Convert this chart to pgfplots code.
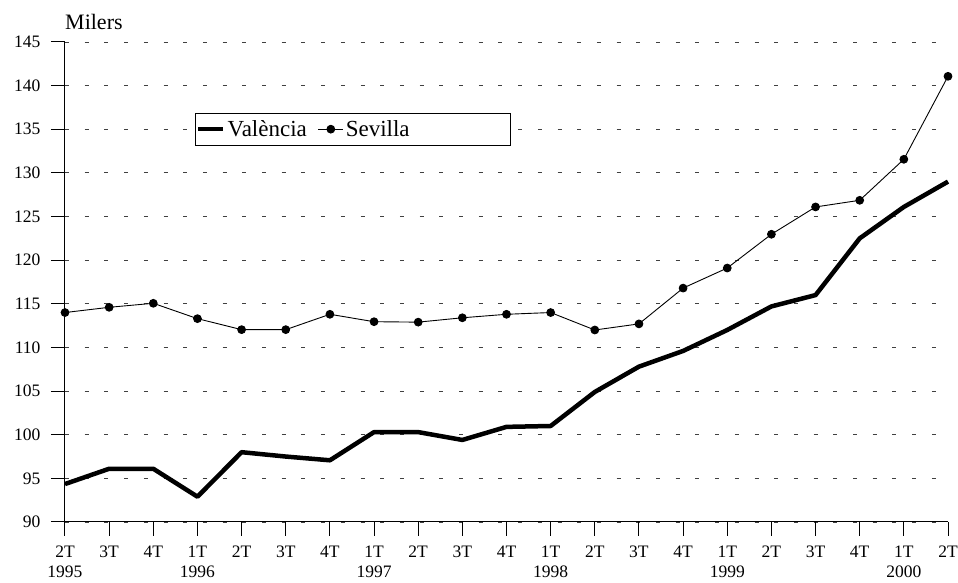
\documentclass[border=0pt]{standalone}
\usepackage{pgfplots}
\pgfplotsset{compat=1.18}
\usepackage{fontspec}
\setmainfont{Liberation Serif}
\begin{document}
\begin{tikzpicture}
\begin{axis}[
  scale only axis,
  width=883pt, height=480pt,
  xmin=0, xmax=20, ymin=90, ymax=145,
  axis x line*=bottom, axis y line*=left,
  axis line style={line width=1pt},
  xtick={0,...,20},
  xticklabels={{2T\\1995},3T,4T,{1T\\1996},2T,3T,4T,{1T\\1997},2T,3T,4T,{1T\\1998},2T,3T,4T,{1T\\1999},2T,3T,4T,{1T\\2000},2T},
  ytick={90,95,...,145},
  tick align=outside,
  major tick length=14pt,
  tick style={line width=1pt, black},
  xticklabel style={align=center, font=\fontsize{17.5}{20}\selectfont, yshift=-6pt},
  yticklabel style={font=\fontsize{17.5}{20}\selectfont, xshift=-7pt},
  /pgf/number format/assume math mode=true,
  ymajorgrids,
  grid style={black!75, line width=0.9pt, dash pattern=on 4pt off 15.7pt},
  clip=false,
  legend columns=2,
  legend style={at={(rel axis cs:0.147,0.852)}, anchor=north west,
    draw=black, line width=0.8pt, inner xsep=1pt, inner ysep=5pt,
    font=\fontsize{23}{25}\selectfont,
    nodes={inner sep=2pt},
    /tikz/column 2/.style={column sep=9pt}},
  legend image code/.code={\draw[mark repeat=2,mark phase=2,#1] plot coordinates {(0pt,0pt) (12.5pt,0pt) (25pt,0pt)};},
]
\addplot[black, line width=4.5pt, line join=round] coordinates {
(0,94.35) (1,96.1) (2,96.1) (3,92.9) (4,98.0) (5,97.5) (6,97.07)
(7,100.3) (8,100.3) (9,99.4) (10,100.9) (11,101.0) (12,104.9)
(13,107.8) (14,109.6) (15,112.0) (16,114.7) (17,116.0) (18,122.5)
(19,126.1) (20,129.0)};
\addlegendentry{València}
\addplot[black, line width=0.9pt, mark=*, mark size=3.9pt] coordinates {
(0,114.0) (1,114.6) (2,115.06) (3,113.3) (4,112.04) (5,112.04) (6,113.8)
(7,112.95) (8,112.9) (9,113.4) (10,113.8) (11,114.0) (12,112.0)
(13,112.7) (14,116.8) (15,119.1) (16,122.97) (17,126.1) (18,126.86)
(19,131.56) (20,141.07)};
\addlegendentry{Sevilla\hspace*{98pt}}
\node[anchor=base west, inner sep=0pt, font=\fontsize{22}{24}\selectfont] at ([yshift=12pt]rel axis cs:0,1) {Milers};
\end{axis}
\pgfresetboundingbox
\path (-65pt,-61pt) rectangle (893pt,522pt);
\end{tikzpicture}
\end{document}
